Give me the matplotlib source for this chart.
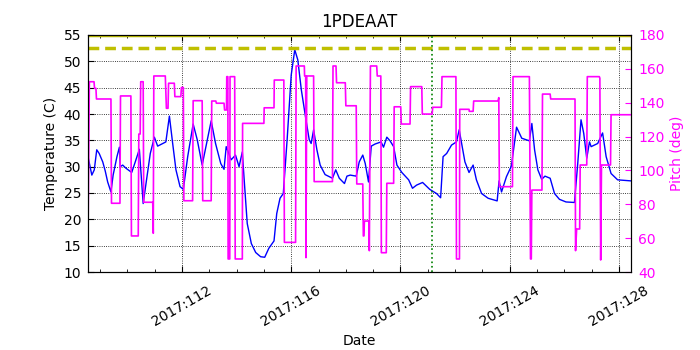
import matplotlib
matplotlib.use("Agg")
from matplotlib import pyplot as plt
from matplotlib.ticker import MultipleLocator, FuncFormatter

# Temperatura (C)
temp_dias = [108.56, 108.70, 108.79, 108.88, 108.97, 109.10, 109.19, 109.28, 109.40, 109.48,
             109.62, 109.71, 109.74, 109.83, 109.95, 110.16, 110.29, 110.44, 110.58, 110.72,
             110.84, 110.99, 111.11, 111.41, 111.54, 111.66, 111.78, 111.93, 112.05, 112.21,
             112.41, 112.56, 112.74, 112.93, 113.07, 113.23, 113.42, 113.54, 113.62, 113.80,
             113.96, 114.09, 114.21, 114.27, 114.39, 114.54, 114.70, 114.88, 115.03, 115.18,
             115.37, 115.47, 115.59, 115.71, 115.85, 116.00, 116.13, 116.24, 116.37, 116.54,
             116.66, 116.73, 116.82, 116.94, 117.06, 117.24, 117.51, 117.63, 117.76, 117.95,
             118.04, 118.16, 118.38, 118.49, 118.62, 118.71, 118.83, 118.93, 119.07, 119.29,
             119.38, 119.50, 119.62, 119.75, 119.87, 120.05, 120.30, 120.44, 120.59, 120.81,
             121.07, 121.32, 121.47, 121.56, 121.69, 121.87, 122.05, 122.15, 122.23, 122.36,
             122.51, 122.66, 122.78, 122.97, 123.21, 123.54, 123.61, 123.70, 123.88, 124.06,
             124.25, 124.44, 124.72, 124.81, 124.91, 125.03, 125.17, 125.29, 125.48, 125.64,
             125.82, 126.06, 126.37, 126.49, 126.61, 126.71, 126.82, 126.92, 126.98, 127.22,
             127.40, 127.53, 127.71, 127.95, 128.44]
temp_vals = [31.9, 28.4, 29.4, 33.2, 32.5, 30.9, 29.2, 27.1, 25.2, 28.4,
             31.9, 33.7, 30.0, 30.3, 29.7, 28.9, 30.9, 33.3, 23.0, 28.1,
             32.5, 35.6, 33.9, 34.7, 39.6, 34.4, 29.4, 26.2, 25.7, 31.9,
             38.1, 35.1, 30.3, 35.1, 38.7, 34.4, 30.6, 29.5, 33.8, 31.3,
             32.2, 30.0, 32.8, 28.1, 19.2, 15.4, 13.7, 12.9, 12.8, 14.5,
             15.9, 21.1, 24.0, 24.9, 35.1, 47.4, 52.2, 50.3, 44.6, 38.9,
             35.1, 34.4, 37.0, 33.2, 30.3, 28.5, 27.8, 29.4, 27.8, 26.8,
             28.2, 28.4, 28.2, 30.9, 32.2, 30.6, 27.1, 33.9, 34.3, 34.7,
             33.7, 35.6, 34.9, 33.8, 30.3, 28.9, 27.5, 25.9, 26.5, 27.0,
             25.7, 24.9, 24.1, 31.9, 32.5, 34.1, 34.7, 37.0, 34.7, 30.9,
             28.9, 30.3, 27.5, 24.9, 24.0, 23.5, 27.3, 25.2, 28.1, 30.1,
             37.5, 35.4, 34.9, 38.2, 33.2, 29.4, 27.6, 28.2, 27.8, 24.9,
             23.8, 23.3, 23.2, 30.6, 38.9, 36.3, 31.6, 34.7, 33.8, 34.4,
             36.4, 31.9, 28.7, 27.5, 27.3]

# Pitch (deg)
pitch_dias = [108.56, 108.61, 108.78, 108.80, 108.85, 108.87, 109.40, 109.42, 109.73, 109.75,
              110.13, 110.15, 110.40, 110.42, 110.47, 110.49, 110.58, 110.60, 110.93, 110.95,
              110.97, 111.39, 111.43, 111.49, 111.51, 111.72, 111.74, 111.96, 111.98, 112.05,
              112.07, 112.39, 112.41, 112.74, 112.76, 113.07, 113.09, 113.24, 113.26, 113.54,
              113.56, 113.63, 113.64, 113.68, 113.69, 113.75, 113.76, 113.93, 113.95, 114.21,
              114.22, 115.00, 115.01, 115.37, 115.38, 115.73, 115.75, 116.16, 116.18, 116.48,
              116.49, 116.53, 116.54, 116.57, 116.82, 116.84, 117.51, 117.53, 117.64, 117.66,
              117.98, 118.00, 118.38, 118.40, 118.62, 118.64, 118.66, 118.68, 118.84, 118.86,
              118.90, 119.13, 119.15, 119.28, 119.30, 119.48, 119.50, 119.75, 119.77, 120.01,
              120.03, 120.35, 120.37, 120.78, 120.80, 121.16, 121.18, 121.50, 121.52, 122.03,
              122.05, 122.16, 122.17, 122.51, 122.52, 122.66, 122.68, 123.57, 123.60, 123.62,
              124.10, 124.12, 124.72, 124.76, 124.79, 124.81, 125.18, 125.20, 125.48, 125.50,
              126.39, 126.41, 126.45, 126.56, 126.58, 126.82, 126.84, 127.28, 127.30, 127.33,
              127.36, 127.69, 127.71, 128.44]
pitch_vals = [60.8, 152.4, 152.4, 148.5, 148.5, 142.2, 142.2, 80.6, 80.6, 144.0,
              144.0, 61.3, 61.3, 121.5, 121.5, 152.4, 152.4, 81.2, 81.2, 62.9,
              155.8, 155.8, 136.7, 136.7, 151.5, 151.5, 143.6, 143.6, 149.0, 149.0,
              82.1, 82.1, 141.2, 141.2, 82.1, 82.1, 141.0, 141.0, 139.7, 139.7,
              135.7, 135.7, 155.4, 155.4, 47.7, 47.7, 155.4, 155.4, 47.7, 47.7,
              127.8, 127.8, 137.0, 137.0, 153.4, 153.4, 57.5, 57.5, 161.7, 161.7,
              155.8, 155.8, 48.5, 155.8, 155.8, 93.4, 93.4, 161.7, 161.7, 151.8,
              151.8, 138.2, 138.2, 92.0, 92.0, 61.3, 61.3, 70.1, 70.1, 52.6,
              161.7, 161.7, 155.8, 155.8, 51.4, 51.4, 92.4, 92.4, 137.6, 137.6,
              127.4, 127.4, 149.5, 149.5, 133.3, 133.3, 137.3, 137.3, 155.4, 155.4,
              47.7, 47.7, 136.1, 136.1, 134.9, 134.9, 141.0, 141.0, 143.0, 90.4,
              90.4, 155.4, 155.4, 47.7, 47.7, 88.4, 88.4, 145.1, 145.1, 142.2,
              142.2, 52.6, 65.4, 65.4, 103.2, 103.2, 155.4, 155.4, 154.5, 47.1,
              103.2, 103.2, 132.9, 132.9]

limite_planejado = 52.5
limite_topo = 55
dia_marcado = 121.15
inicio, fim = 108.56, 128.44


def formata_data(x, pos):
    return "2017:%03d" % int(round(x))


plt.rcParams['font.family'] = 'DejaVu Sans'
plt.rcParams['font.size'] = 10

fig = plt.figure(figsize=(7, 3.5), dpi=100)
ax1 = fig.add_axes([88 / 700, 78 / 350, 543 / 700, 237 / 350])

ax1.plot(temp_dias, temp_vals, color='b', lw=1.0)
ax1.axhline(limite_planejado, color='y', lw=2.5, linestyle=(0, (3.1, 1.7)))
ax1.axhline(limite_topo, color='y', lw=2.5)
ax1.axvline(dia_marcado, color='g', lw=1.2, linestyle=':')
ax1.set_xlim(inicio, fim)
ax1.set_ylim(10, 55)
ax1.yaxis.set_major_locator(MultipleLocator(5))
ax1.xaxis.set_major_locator(MultipleLocator(4))
ax1.xaxis.set_minor_locator(MultipleLocator(1))
ax1.xaxis.set_major_formatter(FuncFormatter(formata_data))
ax1.grid(True, color='k', linestyle=':', lw=0.6)
ax1.tick_params(axis='both', which='both', direction='in', top=True)
ax1.tick_params(axis='both', which='major', length=4, pad=5)
ax1.tick_params(axis='x', which='minor', length=2)
ax1.tick_params(axis='x', which='major', pad=8)
for lbl in ax1.get_xticklabels():
    lbl.set_rotation(30)
    lbl.set_ha('center')
ax1.set_xlabel("Date")
ax1.set_ylabel("Temperature (C)")
ax1.set_title("1PDEAAT", fontsize=12)

ax2 = ax1.twinx()
ax2.plot(pitch_dias, pitch_vals, color='magenta', lw=1.2)
ax2.set_ylim(40, 180)
ax2.yaxis.set_major_locator(MultipleLocator(20))
ax2.tick_params(axis='y', direction='in', length=4, pad=5, colors='magenta')
ax2.set_ylabel("Pitch (deg)", color='magenta')
ax2.spines['right'].set_color('k')
ax2.set_xlim(inicio, fim)

fig.savefig("out.png", dpi=100)
